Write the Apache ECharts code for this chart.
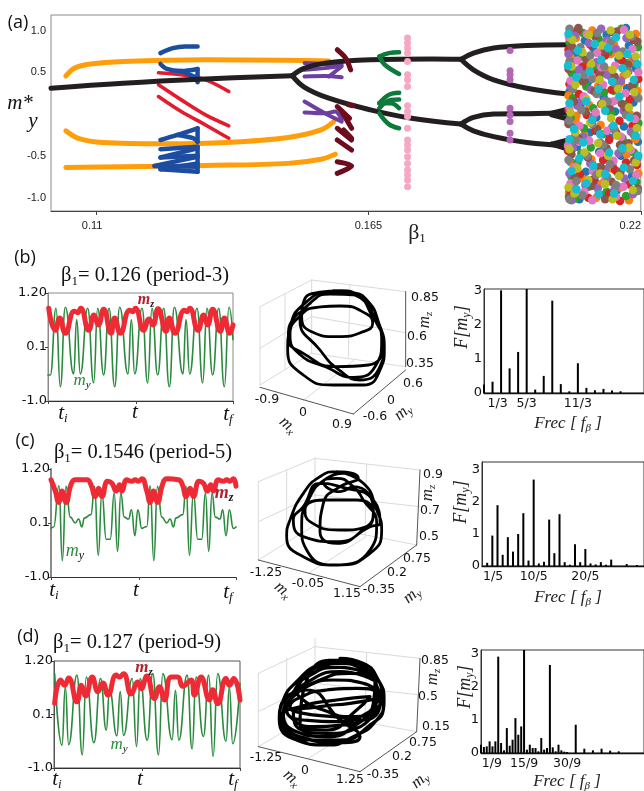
<!DOCTYPE html>
<html><head><meta charset="utf-8">
<style>html,body{margin:0;padding:0;background:#fff}#c{width:644px;height:791px}</style>
<script src="https://cdn.jsdelivr.net/npm/echarts@6/dist/echarts.min.js"></script>
</head><body><div id="c"></div>
<script>
// ---------- panel (a): bifurcation diagram, [beta1, m*y] ----------
const blackBranches=[
 [[.1009,.31],[.1155,.37],[.1321,.42],[.1496,.46]],
 [[.1496,.46],[.1521,.55],[.1562,.61],[.1654,.65],[.1778,.66],[.1837,.655]],
 [[.1837,.655],[.1862,.73],[.1903,.79],[.1970,.82],[.2053,.83]],
 [[.1837,.655],[.1862,.53],[.1903,.41],[.1970,.31],[.2053,.24]],
 [[.1496,.46],[.1521,.32],[.1570,.19],[.1654,.05],[.1737,-.05],[.1837,-.12]],
 [[.1837,-.12],[.1862,-.04],[.1903,0],[.1970,.005],[.2020,.01],[.2053,.01]],
 [[.1837,-.12],[.1862,-.20],[.1903,-.27],[.1970,-.34],[.2053,-.38]],
 [[.2020,.01],[.2053,.06]],[[.2020,-.01],[.2053,-.06]],
 [[.2020,-.36],[.2053,-.31]],[[.2020,-.36],[.2053,-.42]]];
const orangeBranches=[
 [[.1039,.455],[.1056,.55],[.1089,.60],[.1155,.63],[.1321,.65],[.1488,.645],[.1570,.635]],
 [[.1039,-.20],[.1064,-.29],[.1114,-.34],[.1238,-.355],[.1363,-.34],[.1488,-.28],[.1554,-.19],[.1580,-.09]],
 [[.1039,-.64],[.1155,-.63],[.1321,-.615],[.1488,-.59],[.1554,-.54],[.1583,-.48]]];
const blueBranches=[
 [[.1230,.73],[.1255,.79],[.1280,.81],[.1305,.81]],
 [[.1230,.60],[.1243,.54],[.1272,.515],[.1305,.54]],
 [[.1272,.515],[.1305,.43]],[[.1305,.54],[.1305,.38]],
 [[.1230,-.31],[.1264,-.25],[.1305,-.17]],
 [[.1264,-.25],[.1297,-.29],[.1305,-.33]],[[.1305,-.17],[.1305,-.33]],
 [[.1230,-.42],[.1305,-.39]],[[.1230,-.52],[.1305,-.41]],
 [[.1230,-.52],[.1305,-.50]],[[.1218,-.62],[.1305,-.51]],
 [[.1230,-.66],[.1305,-.69]],[[.1230,-.66],[.1305,-.59]],
 [[.1218,-.62],[.1305,-.63]],[[.1305,-.39],[.1305,-.69]]];
const redBranches=[
 [[.1226,.495],[.1272,.47],[.1321,.41],[.1368,.27]],
 [[.1226,.35],[.1272,.17],[.1321,-.01],[.1368,-.14]],
 [[.1226,.21],[.1272,.03],[.1321,-.13],[.1368,-.29]]];
const purpleBranches=[
 [[.1521,.61],[.1596,.59]],
 [[.1521,.53],[.1562,.55],[.1594,.575]],
 [[.1521,.45],[.1562,.455],[.1596,.44]],
 [[.1570,.45],[.1596,.57]],
 [[.1521,.15],[.1562,.01],[.1596,-.09]],
 [[.1521,.02],[.1562,.01],[.1583,.03],[.1596,-.07]]];
const darkRedBranches=[
 [[.1587,.77],[.1604,.67],[.1614,.53]],
 [[.1587,.09],[.1612,-.05]],
 [[.1596,.03],[.1616,-.17]],
 [[.1587,-.17],[.1616,-.31]],
 [[.1600,-.19],[.1616,-.29]],
 [[.1587,-.31],[.1616,-.43]],
 [[.1587,-.57],[.1616,-.62],[.1587,-.71]],
 [[.1610,.11],[.1618,.10]]];
const greenBranches=[
 [[.1672,.69],[.1691,.73],[.1712,.74]],
 [[.1672,.69],[.1683,.59],[.1712,.48]],
 [[.1672,.13],[.1691,.23],[.1712,.255]],
 [[.1672,.07],[.1695,.17],[.1712,.175]],
 [[.1672,.13],[.1695,.13],[.1712,.07]],
 [[.1672,.01],[.1691,-.12],[.1712,-.17]]];
const pinkBeta=.1729;
const pinkM=[.91,.85,.79,.73,.63,.47,.41,.33,.10,.03,-.03,-.17,-.31,-.37,-.43,-.51,-.59,-.67,-.73,-.79,-.87];
const orchidBeta=.1936;
const orchidM=[.76,.52,.47,.41,.07,-.01,-.09,-.23,-.31];
const chaosColors=['#1f77b4','#ff7f0e','#2ca02c','#d62728','#9467bd','#8c564b','#e377c2','#7f7f7f','#bcbd22','#17becf'];
const chaos=[
 [[.2058,.99],[.2131,.95],[.2087,.88],[.2176,.82],[.2104,.79],[.2066,.71],[.2155,.66],[.2119,.60],[.2190,.55],[.2061,.49],[.2140,.44],[.2093,.38],[.2172,.31],[.2056,.27],[.2125,.20],[.2185,.14],[.2078,.09],[.2148,.03],[.2110,-.04],[.2062,-.10],[.2166,-.15],[.2097,-.22],[.2137,-.28],[.2194,-.33],[.2071,-.39],[.2116,-.45],[.2160,-.50],[.2058,-.57],[.2143,-.62],[.2089,-.69],[.2182,-.74],[.2107,-.80],[.2064,-.86],[.2151,-.92],[.2125,-.97],[.2076,-1.02],[.2170,1.03],[.2084,.55],[.2130,.10],[.2102,-.60]],
 [[.2102,1.00],[.2190,.96],[.2069,.91],[.2146,.84],[.2122,.77],[.2058,.68],[.2180,.63],[.2092,.58],[.2135,.52],[.2165,.46],[.2074,.41],[.2114,.34],[.2193,.28],[.2054,.22],[.2153,.17],[.2096,.11],[.2130,.06],[.2178,.00],[.2068,-.07],[.2119,-.13],[.2148,-.19],[.2086,-.25],[.2189,-.30],[.2057,-.36],[.2128,-.42],[.2172,-.48],[.2100,-.54],[.2064,-.60],[.2140,-.65],[.2195,-.71],[.2082,-.77],[.2121,-.83],[.2159,-.88],[.2055,-.94],[.2110,-1.00],[.2176,-1.03],[.2140,.72],[.2070,-.02],[.2160,.37]],
 [[.2083,.97],[.2161,1.02],[.2115,.90],[.2056,.86],[.2194,.80],[.2135,.74],[.2079,.69],[.2169,.61],[.2108,.55],[.2060,.50],[.2148,.43],[.2187,.36],[.2090,.33],[.2126,.26],[.2063,.19],[.2174,.13],[.2104,.07],[.2140,.01],[.2058,-.05],[.2195,-.11],[.2085,-.17],[.2122,-.24],[.2163,-.29],[.2055,-.34],[.2099,-.40],[.2186,-.46],[.2134,-.52],[.2072,-.58],[.2113,-.64],[.2153,-.70],[.2060,-.75],[.2191,-.81],[.2094,-.87],[.2131,-.93],[.2170,-.98],[.2068,-1.01],[.2145,.28],[.2080,-.47],[.2118,.47]],
 [[.2144,.98],[.2073,1.01],[.2186,.89],[.2098,.83],[.2054,.77],[.2128,.70],[.2162,.64],[.2082,.57],[.2112,.49],[.2195,.42],[.2056,.36],[.2141,.29],[.2075,.24],[.2178,.18],[.2120,.12],[.2054,.05],[.2091,-.01],[.2157,-.08],[.2183,-.14],[.2108,-.20],[.2068,-.26],[.2136,-.31],[.2166,-.38],[.2053,-.44],[.2089,-.49],[.2124,-.55],[.2192,-.61],[.2148,-.67],[.2077,-.72],[.2105,-.78],[.2175,-.84],[.2056,-.90],[.2136,-.95],[.2094,-1.00],[.2158,-1.04],[.2120,.33],[.2170,-.58],[.2060,.62]],
 [[.2120,1.02],[.2067,.94],[.2171,.91],[.2095,.85],[.2150,.78],[.2054,.72],[.2187,.67],[.2110,.62],[.2075,.53],[.2132,.47],[.2160,.40],[.2059,.32],[.2099,.29],[.2190,.23],[.2127,.16],[.2072,.10],[.2165,.04],[.2104,-.03],[.2054,-.09],[.2142,-.16],[.2180,-.21],[.2084,-.27],[.2118,-.34],[.2063,-.41],[.2155,-.47],[.2193,-.53],[.2098,-.59],[.2129,-.66],[.2056,-.71],[.2167,-.77],[.2088,-.85],[.2147,-.90],[.2184,-.96],[.2060,-1.03],[.2113,-.89],[.2131,.88],[.2080,.16]],
 [[.2074,1.03],[.2152,.99],[.2108,.93],[.2193,.87],[.2061,.81],[.2127,.76],[.2090,.65],[.2175,.59],[.2054,.54],[.2118,.50],[.2147,.45],[.2083,.39],[.2182,.34],[.2106,.27],[.2065,.15],[.2137,.08],[.2162,.12],[.2088,.03],[.2192,-.02],[.2054,-.12],[.2112,-.18],[.2151,-.23],[.2074,-.29],[.2175,-.35],[.2131,-.41],[.2060,-.48],[.2093,-.52],[.2186,-.56],[.2119,-.63],[.2159,-.69],[.2067,-.76],[.2141,-.81],[.2100,-.86],[.2194,-.89],[.2055,-.99],[.2128,-1.02],[.2170,.06],[.2158,-.37]],
 [[.2166,1.01],[.2091,.96],[.2055,.92],[.2137,.86],[.2183,.78],[.2112,.73],[.2072,.64],[.2148,.58],[.2195,.50],[.2101,.45],[.2058,.40],[.2124,.35],[.2169,.25],[.2085,.21],[.2144,.15],[.2056,.08],[.2109,.02],[.2188,-.06],[.2076,-.14],[.2132,-.20],[.2160,-.27],[.2096,-.32],[.2053,-.38],[.2180,-.43],[.2118,-.47],[.2145,-.56],[.2069,-.63],[.2103,-.68],[.2191,-.73],[.2128,-.79],[.2058,-.83],[.2165,-.87],[.2086,-.93],[.2150,-.99],[.2102,-1.03],[.2120,.56],[.2075,-.33]],
 [[.2056,1.02],[.2112,.97],[.2182,.93],[.2140,.87],[.2078,.80],[.2164,.75],[.2098,.70],[.2056,.63],[.2126,.57],[.2175,.51],[.2086,.47],[.2148,.37],[.2063,.30],[.2111,.24],[.2195,.19],[.2133,.15],[.2080,.05],[.2170,-.01],[.2056,-.08],[.2102,-.12],[.2146,-.18],[.2185,-.24],[.2070,-.31],[.2124,-.37],[.2160,-.44],[.2092,-.50],[.2054,-.55],[.2138,-.60],[.2178,-.66],[.2110,-.73],[.2070,-.80],[.2150,-.85],[.2194,-.92],[.2082,-.97],[.2056,-1.02],[.2132,-.75],[.2102,.42]],
 [[.2095,.95],[.2139,1.00],[.2178,.95],[.2062,.89],[.2122,.82],[.2156,.70],[.2082,.74],[.2190,.69],[.2100,.60],[.2060,.57],[.2143,.53],[.2172,.48],[.2117,.41],[.2068,.35],[.2154,.30],[.2187,.26],[.2090,.18],[.2122,.12],[.2058,.02],[.2176,.08],[.2140,-.05],[.2098,-.10],[.2192,-.17],[.2068,-.22],[.2152,-.26],[.2114,-.35],[.2056,-.42],[.2176,-.40],[.2086,-.46],[.2134,-.50],[.2190,-.58],[.2072,-.65],[.2156,-.74],[.2118,-.71],[.2094,-.79],[.2054,-.88],[.2184,-.91],[.2128,-.84],[.2066,-.95],[.2143,-1.02]],
 [[.2150,.92],[.2054,.96],[.2107,.84],[.2173,.72],[.2134,.79],[.2073,.76],[.2193,.60],[.2053,.58],[.2120,.65],[.2163,.55],[.2097,.51],[.2142,.39],[.2070,.44],[.2186,.41],[.2115,.30],[.2056,.13],[.2157,.21],[.2090,.15],[.2128,.04],[.2178,-.04],[.2065,-.18],[.2102,-.07],[.2145,-.14],[.2190,-.26],[.2118,-.24],[.2056,-.30],[.2084,-.34],[.2163,-.41],[.2136,-.46],[.2195,-.50],[.2076,-.53],[.2104,-.62],[.2166,-.64],[.2060,-.68],[.2128,-.72],[.2184,-.80],[.2090,-.83],[.2146,-.95],[.2070,-.90],[.2115,-.96]]];
const aYTicks=[-1,-.5,.5,1];
const aXTicks=[.11,.165,.22];

// ---------- panels (b)(c)(d), time series [t, m] ----------
const bMy=[[0,-.47],[7,-.47],[24,.89],[37,-.71],[52,.91],[77,-.45],[86,.66],[97,-.45],[119,.89],[137,-.63],[149,.89],[167,-.47],[183,.89],[200,-.71],[215,.91],[240,-.45],[250,.66],[260,-.45],[282,.89],[299,-.63],[312,.89],[329,-.47],[347,.89],[364,-.71],[379,.91],[405,-.45],[414,.66],[425,-.45],[447,.89],[464,-.63],[477,.89],[494,-.47],[512,.89],[529,-.71],[543,.91],[555,.25]];
const bMz=[[2,.89],[22,.44],[35,.69],[52,.38],[79,.83],[89,.80],[98,.89],[122,.44],[138,.75],[151,.55],[167,.87],[189,.38],[200,.69],[217,.38],[245,.85],[254,.82],[262,.89],[287,.44],[303,.67],[315,.55],[330,.88],[354,.42],[364,.69],[381,.38],[409,.85],[417,.82],[425,.89],[450,.44],[467,.75],[479,.55],[494,.87],[517,.42],[529,.69],[545,.38],[555,.55]];
const cMy=[[0,-.01],[8,.02],[24,.86],[34,-.67],[45,.85],[58,.22],[73,.10],[83,.18],[93,.02],[100,.20],[120,.27],[131,.85],[142,-.56],[153,.71],[166,-.23],[178,-.23],[190,.71],[200,-.48],[210,.71],[220,.22],[233,.18],[242,.37],[252,-.16],[261,.37],[273,-.01],[288,.03],[298,.86],[309,-.67],[320,.85],[333,.22],[348,.10],[358,.18],[368,.02],[375,.20],[396,.27],[406,.85],[416,-.56],[428,.71],[441,-.23],[453,-.23],[464,.71],[474,-.48],[484,.71],[494,.22],[508,.18],[516,.37],[526,-.16],[536,.37],[548,-.01],[556,.02]];
const cMz=[[0,.98],[13,.75],[23,.52],[33,.75],[45,.52],[60,.88],[73,.98],[108,.98],[120,.88],[133,.64],[143,.81],[153,.64],[170,.95],[183,.91],[196,.75],[206,.88],[213,.75],[228,.98],[243,.95],[253,.98],[263,.95],[273,1.0],[288,.75],[298,.52],[308,.75],[320,.52],[335,.88],[348,1.0],[383,.98],[395,.88],[406,.64],[418,.81],[428,.64],[445,.95],[458,.91],[470,.75],[480,.88],[488,.75],[503,.98],[518,.95],[528,.98],[538,.95],[548,1.0],[556,.85]];
const dMy=[[2,.94],[24,-.53],[34,.67],[44,-.52],[69,.91],[85,-.73],[97,.87],[120,-.48],[140,.84],[157,-.22],[167,.60],[189,-.34],[199,.57],[209,-.33],[235,.84],[248,-.56],[259,.84],[280,-.43],[297,.94],[314,-.73],[327,.94],[355,-.42],[365,.60],[375,-.43],[400,.91],[415,-.61],[427,.87],[449,-.35],[465,.91],[478,-.76],[492,.94],[517,-.45],[527,.67],[537,-.50],[559,.74]];
const dMz=[[2,.33],[20,.81],[32,.70],[44,.85],[69,.36],[82,.70],[95,.48],[115,.87],[132,.57],[147,.75],[162,.50],[187,.91],[197,.87],[209,.94],[232,.52],[252,.77],[262,.63],[279,.89],[302,.43],[317,.67],[332,.40],[352,.87],[372,.87],[387,.68],[412,.81],[422,.50],[442,.87],[467,.40],[477,.61],[492,.32],[517,.84],[527,.70],[540,.84],[559,.40]];

// ---------- projected 3D trajectories (plane coordinates of the view) ----------
const trajB=[[280,62],[340,68],[385,95],[415,155],[433,235],[420,300],[370,345],[280,345],[190,315],[143,240],[150,175],[200,95],[280,65],[350,78],[395,135],[425,210],[405,290],[340,322],[260,292],[178,252],[150,195],[180,138],[232,112],[300,108],[380,132],[398,160],[370,185],[290,200],[215,185],[185,140],[192,92],[232,68],[300,62],[372,92],[405,150],[432,225],[420,290],[360,330],[300,302],[240,240],[180,150],[210,100],[270,72],[350,75],[400,135],[428,225],[385,285],[290,290],[190,250],[145,205],[165,140],[230,112]];
const trajC=[[290,65],[370,100],[410,180],[425,240],[390,310],[290,345],[190,320],[140,260],[150,210],[190,130],[240,80],[290,65],[355,85],[300,110],[250,160],[240,245],[290,280],[390,230],[420,220],[400,150],[300,110],[240,100],[190,170],[160,210],[190,260],[290,275],[380,230],[400,190],[350,150],[250,150],[195,180],[210,215],[300,240],[380,230],[400,180],[340,110],[300,125],[250,95],[290,85],[340,110],[370,150],[410,220],[390,300],[280,345],[200,300],[185,230],[205,150],[260,85],[310,70]];
const trajD=[[300,625],[370,640],[415,690],[432,750],[410,810],[340,860],[260,885],[170,870],[118,810],[130,750],[175,690],[235,645],[300,632],[375,650],[405,700],[400,760],[340,830],[260,860],[170,845],[130,790],[160,740],[240,690],[330,670],[395,680],[425,730],[395,790],[310,825],[220,830],[150,800],[135,760],[190,715],[280,690],[370,700],[420,760],[370,810],[280,800],[190,790],[150,770],[185,740],[260,720],[350,715],[410,735],[405,775],[330,800],[250,780],[190,750],[170,720],[230,665],[300,640],[385,665],[390,675],[300,652],[200,680],[160,730],[200,720],[300,810],[360,860],[300,878],[180,860],[125,800],[180,770],[290,750],[390,740],[350,780],[260,840],[180,825],[215,660],[300,630],[380,655],[415,720],[430,770],[390,825],[300,870],[200,870],[125,820],[120,785],[165,720],[225,655],[300,638],[380,662],[400,690],[300,665],[205,695],[150,750],[140,780],[190,810],[290,815],[380,790],[415,745],[330,760],[240,770],[160,790],[175,835],[260,850],[350,835],[415,770]];
const boxB={grid:[[[60,110],[60,345]],[[215,30],[215,250]],[[60,110],[215,30]],[[215,30],[497,65]],[[60,235],[215,140]],[[215,140],[497,188]],[[60,345],[215,250]],[[215,250],[497,290]],[[135,70],[135,298]],[[330,45],[325,262]],[[190,392],[345,268]]],
 edge:[[[60,352],[340,432]],[[340,432],[497,300]],[[497,65],[497,290]]]};
const boxC={grid:[[[55,95],[55,330]],[[225,25],[225,225]],[[55,95],[225,25]],[[225,25],[540,60]],[[55,215],[225,135]],[[225,135],[540,170]],[[55,330],[225,225]],[[225,225],[530,285]],[[140,60],[140,290]],[[380,45],[375,260]],[[205,370],[375,262]]],
 edge:[[[55,330],[360,410]],[[360,410],[530,285]],[[540,60],[530,285]]]};
const boxD={grid:[[[55,670],[55,890]],[[225,565],[225,790]],[[55,670],[225,590]],[[225,590],[540,625]],[[55,785],[225,700]],[[225,700],[540,735]],[[55,890],[225,790]],[[225,790],[530,845]],[[140,625],[140,850]],[[380,610],[375,820]],[[205,925],[375,820]]],
 edge:[[[55,890],[360,965]],[[360,965],[530,845]],[[540,625],[530,845]]]};

// ---------- Fourier spectra [frequency, F] ----------
const bSpec=[[0,.25],[.333,.33],[.667,3],[1,.72],[1.333,1.2],[1.667,3.04],[2,.1],[2.333,.5],[2.667,2.7],[3,.26],[3.333,.05],[3.667,.87],[4,.15],[4.333,.08],[4.667,.12],[5,.07],[5.333,.05]];
const cSpec=[[.2,.1],[.4,.95],[.6,1.9],[.8,.35],[1,.9],[1.2,.45],[1.4,1],[1.6,1.65],[1.8,.17],[2,2.7],[2.2,.08],[2.4,.13],[2.6,1.45],[2.8,.4],[3,1.62],[3.2,.12],[3.4,.04],[3.6,.68],[3.8,.12],[4,.53],[4.2,.08],[4.4,.05],[4.6,.12],[4.8,.04],[5,.2],[5.6,.06],[6,.03]];
const dSpec=[[0,.25],[.111,.18],[.222,.2],[.333,.35],[.444,.2],[.556,.35],[.667,2.9],[.778,.3],[.889,.08],[1,.75],[1.111,.22],[1.222,.4],[1.333,1.05],[1.444,.55],[1.556,.8],[1.667,3.1],[1.778,.1],[1.889,.25],[2,.15],[2.111,.15],[2.222,.05],[2.333,.45],[2.444,.1],[2.556,.15],[2.667,2.65],[2.778,.17],[2.889,.05],[3,.25],[3.111,.08],[3.222,.04],[3.333,.03],[3.667,.85],[4,.13],[4.333,.08],[4.667,.13],[5,.07],[5.333,.05]];
const bFreqTicks={'0.3333':'1/3','1.6667':'5/3','3.6667':'11/3'};
const cFreqTicks={'0.2000':'1/5','2.0000':'10/5','4.0000':'20/5'};
const dFreqTicks={'0.1111':'1/9','1.6667':'15/9','3.3333':'30/9'};
const timeYTicks=[-1,.1,1.2];
const specYTicks=[0,1,2,3];

// ---------- colours ----------
const BLACK='#231f20',ORANGE='#ff9d0a',BLUE='#1c4da0',RED='#e21b2d',PURPLE='#6c3fa0',DRED='#6d0c1c',GREEN='#0b7a3a',PINK='#f6a8c2',ORCHID='#b565b5';
const MY='#2b8a3e',MZ='#ee2a35';
const NUM='"DejaVu Sans"',SERIF='"Liberation Serif"',OPEN='"Open Sans"';

const grids=[],xAxes=[],yAxes=[],series=[];
function addGrid(g,x,y){grids.push(Object.assign({containLabel:false},g));const i=grids.length-1;
 xAxes.push(Object.assign({type:'value',gridIndex:i,splitLine:{show:false}},x));
 yAxes.push(Object.assign({type:'value',gridIndex:i,splitLine:{show:false}},y));return i;}
function line(i,data,color,width,smooth,z,mono){series.push({type:'line',xAxisIndex:i,yAxisIndex:i,data,symbol:'none',smooth:smooth===undefined?.35:smooth,smoothMonotone:mono,z:z||2,silent:true,clip:true,animation:false,
  lineStyle:{color,width,cap:'round',join:'round'}});}

// panel a
const ga=addGrid({left:51,top:15,width:593,height:196,show:true,borderColor:'#8a8a8a',borderWidth:1},
 {min:.1009,max:.22,axisLine:{show:true,onZero:false,lineStyle:{color:'#444'}},
  axisTick:{show:true,customValues:aXTicks,length:4,lineStyle:{color:'#444'}},
  axisLabel:{customValues:aXTicks,margin:9,fontFamily:'"Liberation Sans"',fontSize:11,color:'#222',
   formatter:v=>v>.2?'{r|0.22}':v<.12?'{l|0.11}':'0.165',rich:{r:{padding:[0,21,0,0],fontFamily:'"Liberation Sans"',fontSize:11,color:'#222'},l:{padding:[0,8,0,0],fontFamily:'"Liberation Sans"',fontSize:11,color:'#222'}}}},
 {min:-1.16,max:1.186,axisLine:{show:false,onZero:false},axisTick:{show:false},
  axisLabel:{customValues:aYTicks,margin:5,fontFamily:'"Liberation Sans"',fontSize:11,color:'#222',formatter:v=>v.toFixed(1)}});
redBranches.forEach(d=>line(ga,d,RED,3.6));
orangeBranches.forEach(d=>line(ga,d,ORANGE,5,.35,3));
blueBranches.forEach(d=>line(ga,d,BLUE,4.5,.3,4));
purpleBranches.forEach(d=>line(ga,d,PURPLE,4,.3,4));
blackBranches.forEach(d=>line(ga,d,BLACK,5,.4,5));
greenBranches.forEach(d=>line(ga,d,GREEN,4.5,.4,6));
darkRedBranches.forEach(d=>line(ga,d,DRED,5,.3,6));
series.push({type:'scatter',xAxisIndex:ga,yAxisIndex:ga,data:pinkM.map(m=>[pinkBeta,m]),symbolSize:7,itemStyle:{color:PINK,opacity:1},z:7,silent:true,animation:false});
series.push({type:'scatter',xAxisIndex:ga,yAxisIndex:ga,data:orchidM.map(m=>[orchidBeta,m]),symbolSize:7,itemStyle:{color:ORCHID,opacity:1},z:7,silent:true,animation:false});
chaos.forEach((d,k)=>series.push({type:'scatter',xAxisIndex:ga,yAxisIndex:ga,data:d,symbolSize:8.5,itemStyle:{color:chaosColors[k],opacity:1},z:8,silent:true,animation:false,clip:true}));

// time series panels
function timePanel(g,maxT,my,mz,frame){
 const i=addGrid(Object.assign({show:frame.box,borderColor:frame.color,borderWidth:1},g),
  {min:0,max:maxT,axisLine:{show:true,onZero:false,lineStyle:{color:'#333'}},axisTick:{show:true,customValues:[0,maxT*.476,maxT],length:3,lineStyle:{color:'#444'}},axisLabel:{show:false}},
  {min:-1,max:1.2,axisLine:{show:true,onZero:false,lineStyle:{color:frame.left,width:frame.lw}},axisTick:{show:true,customValues:timeYTicks,length:3,lineStyle:{color:'#444'}},
   axisLabel:{customValues:timeYTicks,margin:1,fontFamily:NUM,fontSize:13,color:'#111',formatter:v=>v===1.2?'1.20':v.toFixed(1)}});
 line(i,my,MY,1.6,.5,2,'x');
 line(i,mz,MZ,5,.5,3);
}
timePanel({left:48,top:293,width:185,height:108},555,bMy,bMz,{box:true,color:'#8a8a8a',left:'#8a8a8a',lw:1});
timePanel({left:51,top:469,width:185,height:108},556,cMy,cMz,{box:false,color:'#8a8a8a',left:'#8a8a8a',lw:2});
timePanel({left:54,top:661,width:186,height:107},559,dMy,dMz,{box:true,color:'#555',left:'#555',lw:1});

// projected 3D views
const pb=addGrid({left:240,top:270,width:200,height:170},{min:0,max:600,show:false},{min:0,max:510,inverse:true,show:false});
const pcd=addGrid({left:240,top:450,width:210,height:341},{min:0,max:630,show:false},{min:0,max:1023,inverse:true,show:false});
function box(i,b){b.grid.forEach(s=>line(i,s,'#dadada',1,false,1));b.edge.forEach(s=>line(i,s,'#555',1,false,1));}
box(pb,boxB);box(pcd,boxC);box(pcd,boxD);
line(pb,trajB,'#000',2.8,.55,3);
line(pcd,trajC,'#000',2.8,.55,3);
line(pcd,trajD,'#000',3.2,.55,3);

// spectra
function specPanel(g,data,yMax,xMax,ticks,pad){
 const vals=Object.keys(ticks).map(Number);
 const lab=v=>ticks[v.toFixed(4)]||'';
 const i=addGrid(Object.assign({show:true,borderColor:'#333',borderWidth:1},g),
  {min:0,max:xMax,axisLine:{show:true,onZero:false,lineStyle:{color:'#111',width:1.4}},axisTick:{show:false},
   axisLabel:{customValues:vals,margin:4,color:'#111',fontFamily:NUM,fontSize:12.5,formatter:v=>{const t=lab(v);return v<.5?'{p|'+t+'}':t;},
    rich:{p:{padding:[0,0,0,pad],fontFamily:NUM,fontSize:12.5,color:'#111'}}}},
  {min:0,max:yMax,axisLine:{show:true,onZero:false,lineStyle:{color:'#333'}},axisTick:{show:false},
   axisLabel:{customValues:specYTicks,margin:2,color:'#111',fontFamily:NUM,fontSize:13,formatter:v=>String(v)}});
 series.push({type:'bar',xAxisIndex:i,yAxisIndex:i,data,barWidth:2,itemStyle:{color:'#000'},silent:true,animation:false,z:3,clip:true});
}
specPanel({left:484,top:289,width:161,height:104},bSpec,3.04,6.25,bFreqTicks,10);
specPanel({left:482,top:462,width:163,height:104},cSpec,3.25,6.27,cFreqTicks,12);
specPanel({left:481,top:650,width:164,height:103},dSpec,3.1,6.31,dFreqTicks,16);

// text
function T(x,y,text,o){o=o||{};return {type:'text',x,y,rotation:(o.rot||0)*Math.PI/180,z:50,silent:true,
 style:{text,x:0,y:0,align:'center',verticalAlign:'middle',fill:o.color||'#111',fontFamily:o.ff||NUM,fontSize:o.fs||12,fontStyle:o.it?'italic':'normal',fontWeight:o.b?'bold':'normal',rich:o.rich}};}
const sub=(ff,fs,sz,color,it,b)=>({a:{fontFamily:ff,fontSize:fs,fill:color,color,fontStyle:it?'italic':'normal',fontWeight:b?'bold':'normal'},s:{fontFamily:ff,fontSize:sz,color,fontStyle:it?'italic':'normal',fontWeight:b?'bold':'normal',verticalAlign:'bottom',padding:[Math.round(fs*.55),0,0,0]}});
const title=(x,y,s)=>T(x,y,'{a|β}{s|1}{a|= '+s+'}',{rich:sub(SERIF,20.5,13,'#111',false)});
const tLab=(x,y,s,u)=>T(x,y,'{a|'+s+'}{s|'+u+'}',{rich:sub(SERIF,21,13,'#111',true)});
const mLab=(x,y,u,c,rot,fs,b)=>T(x,y,'{a|m}{s|'+u+'}',{rot,rich:sub(SERIF,fs||17,fs?Math.round(fs*.65):11,c,true,b)});
const num=(x,y,s)=>T(x,y,s,{fs:12.5});
const frec=(x,y)=>T(x,y,'{a|Frec [ f}{s|β}{a| ]}',{rich:sub(SERIF,17,11,'#222',true)});
const fm=(x,y)=>T(x,y,'{a|F[m}{s|y}{a|]}',{rot:90,rich:sub(SERIF,18,12,'#222',true)});
const graphic=[
 T(18,23,'(a)',{ff:OPEN,fs:18}),T(25,258,'(b)',{ff:OPEN,fs:18}),T(25,441,'(c)',{ff:OPEN,fs:18}),T(28,637,'(d)',{ff:OPEN,fs:18}),
 T(20,103,'m*',{ff:SERIF,fs:21,it:true}),T(33,121,'y',{ff:SERIF,fs:21,it:true}),
 T(417,233,'{a|β}{s|1}',{rich:sub(SERIF,22,13,'#222',false)}),
 title(145,276,'0.126 (period-3)'),title(143,453,'0.1546 (period-5)'),title(137,643,'0.127 (period-9)'),
 tLab(63,413,'t','i'),T(135,412,'t',{ff:SERIF,fs:21,it:true}),tLab(228,414,'t','f'),
 tLab(54,590,'t','i'),T(136,590,"t",{ff:SERIF,fs:21,it:true}),tLab(228,592,'t','f'),
 tLab(57,779,'t','i'),T(140,779,"t",{ff:SERIF,fs:21,it:true}),tLab(233,779,'t','f'),
 mLab(146,300,'z','#b3202c',0,16,true),mLab(82,381,'y','#2b8a3e',0,17),
 mLab(224,493,'z','#b3202c',0,18,true),mLab(75,551,'y','#2b8a3e',0,18),
 mLab(144,668,'z','#b3202c',0,17,true),mLab(119,745,'y','#2b8a3e',0,17),
 num(425,298,'0.85'),num(417,337,'0.6'),num(420,364,'0.35'),num(413,384,'0.6'),num(391,401,'0'),num(375,417,'-0.6'),num(267,400,'-0.9'),num(303,413,'0'),num(342,425,'0.9'),
 mLab(425,320,'z','#222',90),mLab(403,412,'y','#222',40),mLab(288,425,'x','#222',-40),
 num(433,475,'0.9'),num(430,511,'0.7'),num(429,537,'0.5'),num(417,559,'0.75'),num(397,573,'0.2'),num(379,590,'-0.35'),num(266,573,'-1.25'),num(308,584,'-0.05'),num(347,594,'1.15'),
 mLab(428,493,'z','#222',90),mLab(412,595,'y','#222',40),mLab(283,590,'x','#222',-40),
 num(435,661,'0.85'),num(428,697,'0.5'),num(436,727,'0.15'),num(423,743,'0.75'),num(402,757,'0.2'),num(383,775,'-0.35'),num(266,758,'-1.25'),num(305,771,'0'),num(350,780,'1.25'),
 mLab(433,677,'z','#222',90),mLab(420,780,'y','#222',40),mLab(292,778,'x','#222',-40),
 frec(568,424),frec(568,598),frec(567,782),fm(462,327),fm(461,502),fm(465,687)
];

const chart=echarts.init(document.getElementById('c'),null,{renderer:'canvas'});
chart.setOption({animation:false,backgroundColor:'#fff',grid:grids,xAxis:xAxes,yAxis:yAxes,series,graphic});
</script></body></html>
